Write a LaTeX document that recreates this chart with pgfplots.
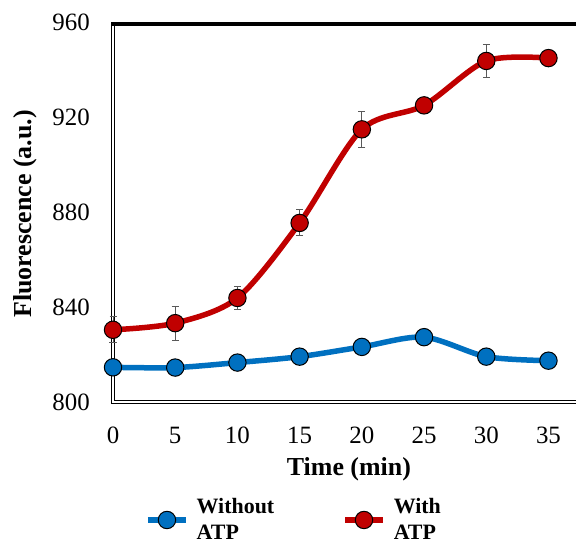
\documentclass[border=0pt]{standalone}
\usepackage{fontspec}
\setmainfont{Liberation Serif}
\usepackage{pgfplots}
\pgfplotsset{compat=1.18}
\definecolor{cred}{HTML}{C00000}
\definecolor{cblue}{HTML}{0070C0}
\definecolor{egray}{HTML}{595959}
\begin{document}
\begin{tikzpicture}
\path[use as bounding box] (0,0) rectangle (576bp,544bp);
\clip (0,0) rectangle (576bp,544bp);
\draw[black, line width=3.2bp, line join=miter] (113bp,521.5bp) -- (113bp,142bp) -- (600bp,142bp);
\draw[white, line width=1.1bp, line join=miter] (113bp,521bp) -- (113bp,142bp) -- (600bp,142bp);
\draw[black, line width=3.5bp] (111.4bp,519.8bp) -- (600bp,519.8bp);
\begin{axis}[
  at={(113bp,142bp)}, anchor=south west,
  scale only axis, width=472.8bp, height=380bp,
  xmin=0, xmax=38, ymin=800, ymax=960,
  axis lines=left, axis line style={draw=none},
  major tick length=0pt,
  xtick={0,5,...,35}, ytick={800,840,...,960},
  clip=false,
  /pgf/number format/assume math mode=true,
  ticklabel style={font=\fontsize{25}{25}\selectfont, inner sep=0pt},
  xticklabel style={anchor=center, yshift=-33bp},
  yticklabel style={anchor=east, xshift=-23bp},
  xlabel={Time (min)}, ylabel={Fluorescence (a.u.)},
  label style={font=\bfseries\fontsize{26}{26}\selectfont},
  xlabel style={at={(axis description cs:0.499,-0.176)}, anchor=center},
  ylabel style={at={(axis description cs:-0.185,0.495)}, anchor=center},
  legend columns=2,
  legend style={at={(axis description cs:0.0677,-0.3105)}, anchor=west, draw=none, fill=none, inner sep=0pt,
    font=\bfseries\fontsize{22}{26}\selectfont, nodes={align=left, inner sep=0pt},
    /tikz/every odd column/.append style={column sep=8bp},
    /tikz/every even column/.append style={column sep=68bp}},
  legend image code/.code={\draw[mark repeat=2,mark phase=2,#1] plot coordinates {(0bp,0bp) (19bp,0bp) (38bp,0bp)};},
]
\addplot[cblue, line width=5.5bp, smooth, tension=0.5, mark=*, mark size=8.7bp,
  mark options={fill=cblue, draw=black, line width=1bp},
  error bars/.cd, y dir=both, y explicit,
  error bar style={egray, line width=1bp},
  error mark options={egray, rotate=90, mark size=3.5bp, line width=1bp}]
  table[x=x, y=y, y error=e] {
x y e
0 814.6 1
5 814.5 1
10 816.6 1
15 819.1 1.5
20 823.2 1
25 827.3 1
30 819.1 1
35 817.4 1
};
\addlegendentry{Without\\ATP}
\addplot[cred, line width=5.5bp, smooth, tension=0.5, mark=*, mark size=8.7bp,
  mark options={fill=cred, draw=black, line width=1bp},
  error bars/.cd, y dir=both, y explicit,
  error bar style={egray, line width=1bp},
  error mark options={egray, rotate=90, mark size=3.5bp, line width=1bp}]
  table[x=x, y=y, y error=e] {
x y e
0 830.4 5.5
5 833.2 7.2
10 843.8 5
15 875.4 5.5
20 914.8 7.6
25 924.9 2
30 943.6 7
35 944.8 2
};
\addlegendentry{With\\ATP}
\end{axis}
\end{tikzpicture}
\end{document}
